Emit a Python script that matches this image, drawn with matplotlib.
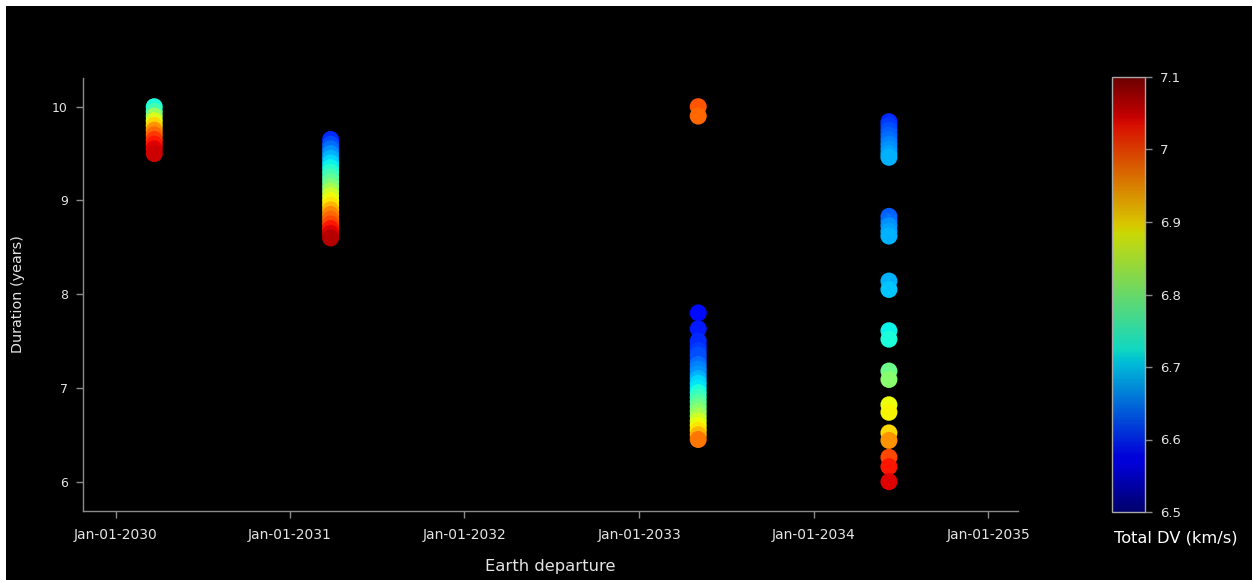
import datetime as dt

import matplotlib
matplotlib.use("Agg")
import matplotlib.pyplot as plt
import matplotlib.dates as mdates
from matplotlib.patches import Rectangle
from matplotlib.cm import ScalarMappable
from matplotlib.colors import Normalize

# Launch windows (Earth departure dates)
departures = [
    dt.datetime(2030, 3, 23),
    dt.datetime(2031, 3, 27),
    dt.datetime(2033, 5, 4),
    dt.datetime(2034, 6, 7),
]

# Trip durations (years) for each launch window
durations = [
    [10.0, 9.95, 9.9, 9.85, 9.8, 9.75, 9.7, 9.65, 9.6, 9.55, 9.5],
    [9.65, 9.6, 9.55, 9.5, 9.45, 9.4, 9.35, 9.3, 9.25, 9.2, 9.15, 9.1,
     9.05, 9.0, 8.95, 8.9, 8.85, 8.8, 8.75, 8.7, 8.65, 8.6],
    [10.0, 9.9, 7.8, 7.63, 7.5, 7.45, 7.4, 7.35, 7.3, 7.25, 7.2, 7.15,
     7.1, 7.05, 7.0, 6.95, 6.9, 6.85, 6.8, 6.75, 6.7, 6.65, 6.6, 6.55,
     6.5, 6.45],
    [9.84, 9.8, 9.75, 9.7, 9.65, 9.6, 9.55, 9.5, 9.46,
     8.83, 8.78, 8.73, 8.67, 8.62,
     8.14, 8.05,
     7.61, 7.52,
     7.18, 7.09,
     6.82, 6.74,
     6.52, 6.44,
     6.26, 6.16,
     6.0],
]

# Total delta-V (km/s) for each trajectory
total_dv = [
    [6.73, 6.76, 6.82, 6.87, 6.91, 6.95, 6.98, 7.01, 7.03, 7.05, 7.06],
    [6.60, 6.62, 6.64, 6.66, 6.68, 6.70, 6.72, 6.74, 6.76, 6.78, 6.80, 6.83,
     6.86, 6.88, 6.90, 6.93, 6.96, 6.98, 7.00, 7.03, 7.05, 7.07],
    [6.99, 6.98, 6.58, 6.59, 6.60, 6.60, 6.61, 6.62, 6.62, 6.64, 6.65, 6.66,
     6.68, 6.70, 6.71, 6.73, 6.75, 6.77, 6.79, 6.81, 6.83, 6.86, 6.88, 6.90,
     6.93, 6.97],
    [6.60, 6.61, 6.62, 6.63, 6.64, 6.65, 6.66, 6.67, 6.68,
     6.63, 6.64, 6.66, 6.67, 6.68,
     6.68, 6.69,
     6.72, 6.73,
     6.79, 6.81,
     6.88, 6.89,
     6.91, 6.95,
     7.00, 7.03,
     7.05],
]

year_ticks = [dt.datetime(y, 1, 1) for y in range(2030, 2036)]
dv_ticks = [6.5, 6.6, 6.7, 6.8, 6.9, 7.0, 7.1]

TEXT = "#e4e4e4"
AXIS = "#8a8a8a"

fig = plt.figure(figsize=(12.52, 5.8), dpi=100, facecolor="white")
fig.patches.append(Rectangle((6 / 1252, 0), 1, 1 - 6 / 580,
                             transform=fig.transFigure, facecolor="black",
                             edgecolor="none", zorder=-10))

ax = fig.add_axes([83 / 1252, 1 - 511 / 580, 935 / 1252, 433 / 580])
ax.set_facecolor("black")

norm = Normalize(vmin=6.5, vmax=7.1)
cmap = plt.get_cmap("jet")

for date, dur, dv in zip(departures, durations, total_dv):
    ax.scatter([date] * len(dur), dur, c=dv, cmap=cmap, norm=norm,
               s=150, edgecolors="none", zorder=3)

ax.set_xlim(dt.datetime(2029, 10, 25), dt.datetime(2035, 3, 4))
ax.set_ylim(5.687, 10.306)
ax.set_xticks(year_ticks)
ax.xaxis.set_major_formatter(mdates.DateFormatter("%b-%d-%Y"))
ax.set_yticks([6, 7, 8, 9, 10])

for side in ("top", "right"):
    ax.spines[side].set_visible(False)
for side in ("left", "bottom"):
    ax.spines[side].set_color(AXIS)
    ax.spines[side].set_linewidth(1.0)

ax.tick_params(axis="both", colors=AXIS, length=5, width=1.0)
ax.tick_params(axis="x", labelcolor=TEXT, labelsize=10, pad=7)
ax.tick_params(axis="y", labelcolor=TEXT, labelsize=9, pad=6)

ax.set_xlabel("Earth departure", color=TEXT, fontsize=11.8)
ax.xaxis.set_label_coords(0.5, -0.129)
ax.xaxis.label.set_va("center")
ax.set_ylabel("Duration (years)", color=TEXT, fontsize=10.4)
ax.yaxis.set_label_coords(-0.0695, 0.501)
ax.yaxis.label.set_va("center")

# Colour scale
cax = fig.add_axes([1112 / 1252, 1 - 512 / 580, 33 / 1252, 435 / 580])
cax.set_facecolor("black")
sm = ScalarMappable(norm=norm, cmap=cmap)
cbar = fig.colorbar(sm, cax=cax, ticks=dv_ticks, alpha=0.85)
cbar.ax.set_yticklabels(["%g" % t for t in dv_ticks])
cbar.outline.set_edgecolor("#a8a8a8")
cbar.outline.set_linewidth(1.0)
cbar.ax.tick_params(colors=AXIS, labelcolor=TEXT, labelsize=9.5,
                    length=5, width=1.0, pad=6)
cbar.ax.set_xlabel("Total DV (km/s)", color="white", fontsize=11.7)
cbar.ax.xaxis.set_label_coords(1.94, -0.06)
cbar.ax.xaxis.label.set_va("center")

fig.savefig("out.png", dpi=100, facecolor=fig.get_facecolor())
